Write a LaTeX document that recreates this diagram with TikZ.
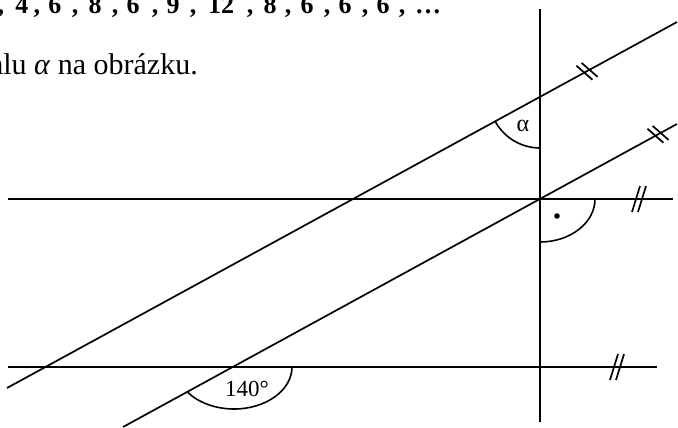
\documentclass[tikz,border=0pt]{standalone}
\usepackage{fontspec}
\setmainfont{Liberation Serif}
\begin{document}
\begin{tikzpicture}[x=1pt,y=-1pt,
  geo/.style={line width=2.2pt},
  slant/.style={line width=1.7pt},
  anglearc/.style={line width=1.6pt},
  tickmark/.style={line width=1.7pt},
  seq/.style={font=\fontsize{26}{30}\selectfont\bfseries, anchor=base, inner sep=0pt},
  lbl/.style={inner sep=0pt}]
\useasboundingbox (0,0) rectangle (678,428);
\clip (0,0) rectangle (678,428);
\fill[white] (0,0) rectangle (678,428);

% ---- clipped text lines ----
\node[seq] (s1) at (1,14) {,};
\node[seq] (s2) at (22,14) {4};
\node[seq] (s3) at (37,14) {,};
\node[seq] (s4) at (55,14) {6};
\node[seq] (s5) at (75,14) {,};
\node[seq] (s6) at (95,14) {8};
\node[seq] (s7) at (115,14) {,};
\node[seq] (s8) at (133,14) {6};
\node[seq] (s9) at (155,14) {,};
\node[seq] (s10) at (173,14) {9};
\node[seq] (s11) at (193,14) {,};
\node[seq] (s12) at (221,14) {12};
\node[seq] (s13) at (250,14) {,};
\node[seq] (s14) at (270,14) {8};
\node[seq] (s15) at (288,14) {,};
\node[seq] (s16) at (307,14) {6};
\node[seq] (s17) at (327,14) {,};
\node[seq] (s18) at (345,14) {6};
\node[seq] (s19) at (365,14) {,};
\node[seq] (s20) at (383,14) {6};
\node[seq] (s21) at (402,14) {,};
\node[seq] (s22) at (428,14) {…};

\node[anchor=base east, inner sep=0pt, font=\fontsize{30}{36}\selectfont] (q) at (198,75) {hlu \textit{α} na obrázku.};

% ---- geometry points ----
\coordinate (VT) at (540,9);   \coordinate (VB) at (540,422);
\coordinate (H1L) at (8,199);  \coordinate (H1R) at (673,199);
\coordinate (H2L) at (8,367);  \coordinate (H2R) at (657,367);
\coordinate (UL) at (7,388);   \coordinate (UR) at (677,22);
\coordinate (LL) at (123,427); \coordinate (LR) at (677,124);
\coordinate (A) at (540,97);
\coordinate (O) at (540,199);
\coordinate (P) at (234,367);

% ---- lines ----
\draw[geo] (VT) -- (VB);
\draw[geo] (H1L) -- (H1R);
\draw[geo] (H2L) -- (H2R);
\draw[slant] (UL) -- (UR);
\draw[slant] (LL) -- (LR);

% ---- angle arcs ----
\draw[anglearc] ([shift={(0,51)}]A) arc[start angle=90, end angle=151.4, radius=51];
\draw[anglearc] ([shift={(55,0)}]O) arc[start angle=0, end angle=90, x radius=55, y radius=43];
\draw[anglearc] ([shift={(58,0)}]P) arc[start angle=0, end angle=142.7, x radius=58, y radius=42];
\fill (557,216) circle[radius=2.8];

\node[lbl, font=\fontsize{24}{26}\selectfont] (alab) at (523,126) {α};
\node[lbl, font=\fontsize{23}{26}\selectfont] (deg) at (247,389) {140°};

% ---- parallel tick marks ----
\foreach \cx/\cy in {584.4/72.7, 589.6/69.9, 655.4/135.7, 660.6/132.9}
  \draw[tickmark] (\cx-8,\cy-7) -- (\cx+8,\cy+7);
\foreach \cx in {636,642}
  \draw[tickmark] (\cx+4,186) -- (\cx-4,212);
\foreach \cx in {614,620}
  \draw[tickmark] (\cx+4,354) -- (\cx-4,380);
\end{tikzpicture}
\end{document}
